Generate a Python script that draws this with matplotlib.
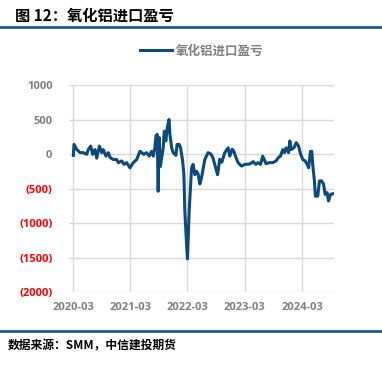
import matplotlib
matplotlib.use('Agg')
import matplotlib.pyplot as plt
import matplotlib.dates as mdates
import pandas as pd

plt.rcParams['font.family'] = ['Noto Sans CJK SC', 'DejaVu Sans']

# 氧化铝进口盈亏 (元/吨)
dates = [
    # 2020
    '2020-03-03', '2020-03-07', '2020-03-25', '2020-04-15', '2020-05-06', '2020-05-27',
    '2020-06-06', '2020-06-22', '2020-07-04', '2020-07-19', '2020-07-30', '2020-08-16',
    '2020-08-31', '2020-09-10', '2020-09-27', '2020-10-12', '2020-10-23', '2020-11-13',
    '2020-12-04', '2020-12-15',
    # 2021
    '2021-01-05', '2021-01-20', '2021-02-06', '2021-02-27', '2021-03-20', '2021-04-11',
    '2021-05-02', '2021-05-13', '2021-05-27', '2021-06-13', '2021-06-30', '2021-07-15',
    '2021-07-26', '2021-08-05', '2021-08-12', '2021-08-20', '2021-08-26', '2021-09-01',
    '2021-09-09', '2021-09-27', '2021-10-04', '2021-10-14', '2021-10-23', '2021-11-03',
    '2021-11-09', '2021-11-20', '2021-11-30', '2021-12-17', '2021-12-25',
    # 2022
    '2022-01-07', '2022-01-16', '2022-01-29', '2022-02-06', '2022-02-12', '2022-02-23',
    '2022-03-01', '2022-03-12', '2022-03-27', '2022-04-06', '2022-04-17', '2022-04-28',
    '2022-05-08', '2022-05-19', '2022-05-30', '2022-06-20', '2022-07-11', '2022-07-28',
    '2022-08-10', '2022-08-22', '2022-09-09', '2022-09-23', '2022-10-06', '2022-10-25',
    '2022-11-15', '2022-11-26', '2022-12-11', '2022-12-22',
    # 2023
    '2023-01-01', '2023-01-18', '2023-02-09', '2023-03-02', '2023-04-02', '2023-04-24',
    '2023-05-11', '2023-05-25', '2023-06-10', '2023-06-24', '2023-07-15', '2023-08-06',
    '2023-08-27', '2023-09-17', '2023-10-03', '2023-10-15', '2023-10-30', '2023-11-10',
    '2023-11-20', '2023-12-06', '2023-12-14', '2023-12-23',
    # 2024
    '2024-01-09', '2024-01-24', '2024-02-08', '2024-02-21', '2024-03-06', '2024-03-21',
    '2024-04-03', '2024-04-12', '2024-04-24', '2024-05-02', '2024-05-08', '2024-05-19',
    '2024-05-25', '2024-06-09', '2024-06-20', '2024-07-04', '2024-07-17', '2024-07-26',
    '2024-08-08', '2024-08-17', '2024-08-30', '2024-09-14',
]
values = [
    # 2020
    -20, 140, 65, 20, 20, -5,
    65, 115, -5, 65, -60, 115,
    20, 65, -30, 20, -50, -80,
    -80, -125,
    # 2021
    -100, -150, -125, -200, -125, -80,
    40, 20, -5, 20, -30, 40,
    -30, 90, 260, 285, -540, 240,
    -180, 90, 330, 190, 380, 500,
    285, 90, 20, -20, 140,
    # 2022
    140, 90, -100, -290, -820, -1300,
    -1520, -820, -200, -150, -300, -250,
    -290, -435, -340, -75, 20, 0,
    -50, -150, -300, -75, -120, 20,
    90, -30, 70, 40,
    # 2023
    -30, -125, -175, -150, -145, -110,
    -150, -125, -150, -30, -140, -125,
    -125, -100, -50, -30, 65, 20,
    90, 20, 190, 65,
    # 2024
    90, 165, 115, -5, -80, -100,
    -150, -200, 40, 40, -150, -390,
    -610, -610, -390, -390, -440, -585,
    -560, -680, -585, -575,
]
series_name = '氧化铝进口盈亏'
y_ticks = [1000, 500, 0, -500, -1000, -1500, -2000]
x_ticks = ['2020-03-01', '2021-03-01', '2022-03-01', '2023-03-01', '2024-03-01']

df = pd.DataFrame({'date': pd.to_datetime(dates), 'val': values})

navy = '#0b4a7a'
gray = '#7f7f7f'
tick_font = ['Open Sans', 'DejaVu Sans']

fig = plt.figure(figsize=(3.82, 3.65), dpi=100)
ax = fig.add_axes([0.181, 0.2, 0.693, 0.567])
ax.plot(df['date'], df['val'], color=navy, lw=2.2, label=series_name)

ax.set_ylim(-2000, 1000)
ax.set_yticks(y_ticks)
ax.set_xlim(pd.Timestamp('2020-02-05'), pd.Timestamp('2024-09-20'))
ax.set_xticks(pd.to_datetime(x_ticks))
ax.xaxis.set_major_formatter(mdates.DateFormatter('%Y-%m'))
ax.grid(True, color='#d9d9d9', lw=1)
ax.set_axisbelow(True)
for s in ax.spines.values():
    s.set_visible(False)
ax.tick_params(length=0, pad=7)
ax.tick_params(axis='y', pad=12)

ylabels = []
for v in y_ticks:
    ylabels.append('({})'.format(-v) if v < 0 else str(v))
ax.set_yticklabels(ylabels)
for lab, v in zip(ax.get_yticklabels(), y_ticks):
    lab.set_color('#ff0000' if v < 0 else gray)
    lab.set_fontweight('bold')
    lab.set_family(tick_font)
    lab.set_fontsize(8)
for lab in ax.get_xticklabels():
    lab.set_fontweight('bold')
    lab.set_family(tick_font)
    lab.set_fontsize(8)
    lab.set_color(gray)

leg = ax.legend(loc='lower center', bbox_to_anchor=(0.5, 1.08), frameon=False,
                handlelength=2.6, handletextpad=0.3, fontsize=9)
for t in leg.get_texts():
    t.set_color(gray)
    t.set_fontweight('bold')

# 标题与来源
fig.text(0.04, 0.958, '图 12：氧化铝进口盈亏', fontsize=11, fontweight='bold',
         va='center', ha='left')
fig.add_artist(plt.Line2D([0, 1], [0.926, 0.926], color='#1d5a8a', lw=2))
fig.add_artist(plt.Line2D([0, 1], [0.092, 0.092], color='#1d5a8a', lw=2))
fig.text(0.02, 0.052, '数据来源：SMM，中信建投期货', fontsize=8.5, fontweight='bold',
         style='italic', va='center', ha='left')

fig.savefig('out.png', dpi=100)
